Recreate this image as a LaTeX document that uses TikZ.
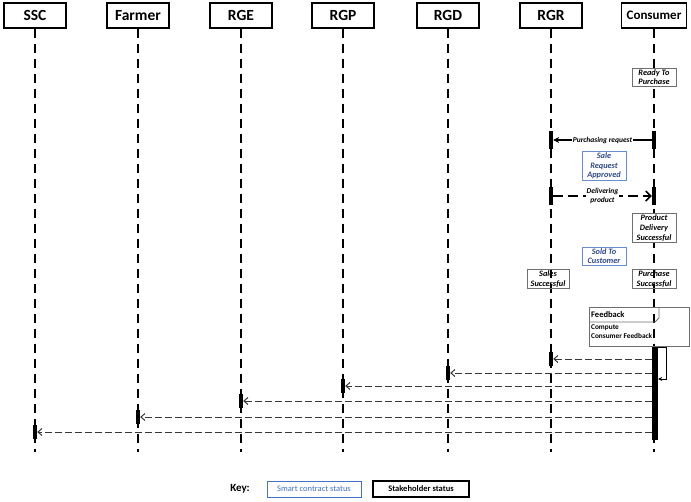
\documentclass[tikz,border=0pt]{standalone}
\usepackage{fontspec}
\setmainfont{Carlito}
\usetikzlibrary{arrows.meta}
\definecolor{keyblue}{HTML}{4472C4}
\definecolor{txtblue}{HTML}{2F4A8A}
\definecolor{boxgray}{HTML}{6F6F6F}
\definecolor{retgray}{HTML}{383838}
\begin{document}
\begin{tikzpicture}[x=1pt,y=-1pt,
  actor/.style={draw,line width=1.1pt,minimum width=62pt,minimum height=25pt,inner sep=0pt,font=\fontsize{15.5}{17}\selectfont\bfseries},
  life/.style={line width=1.1pt,dash pattern=on 9pt off 6pt},
  actbar/.style={fill=black,draw=none,minimum width=4pt,minimum height=14pt,inner sep=0pt},
  status/.style={draw=boxgray,line width=0.8pt,fill=white,align=center,inner sep=1.2pt,minimum width=44pt,font=\fontsize{8.3}{9.6}\selectfont\bfseries\itshape},
  contract/.style={status,draw=keyblue!80,text=txtblue},
  msglabel/.style={fill=white,inner sep=1pt,align=center,font=\fontsize{7.5}{8.5}\selectfont\bfseries\itshape},
  ret/.style={retgray,line width=1pt,dash pattern=on 6.5pt off 3.5pt,-{Straight Barb[length=4pt,width=7pt]}}
]
\useasboundingbox (0,0) rectangle (691,501);
\fill[white] (0,0) rectangle (691,501);

% actors
\node[actor] (ssc) at (35,15.5) {SSC};
\node[actor] (farmer) at (138,15.5) {Farmer};
\node[actor] (rge) at (241,15.5) {RGE};
\node[actor] (rgp) at (343,15.5) {RGP};
\node[actor] (rgd) at (448,15.5) {RGD};
\node[actor] (rgr) at (551,15.5) {RGR};
\node[actor,minimum width=65pt,font=\fontsize{13}{15}\selectfont\bfseries] (cons) at (654,15.5) {Consumer};

% lifeline ends
\foreach \n/\x in {ssc/35,farmer/138,rge/241,rgp/343,rgd/448,rgr/551,cons/654}{
  \coordinate (\n end) at (\x,452);
  \draw[life] (\n.south) -- (\n end);
}

% activation bars
\node[actbar,minimum height=18pt] (rb1) at (551,140) {};
\node[actbar,minimum height=18pt] (cb1) at (654,140) {};
\node[actbar,minimum height=18pt] (rb2) at (551,196) {};
\node[actbar,minimum height=18pt] (cb2) at (654,196) {};
\node[actbar,minimum width=6pt,minimum height=94pt] (cbar) at (655,393) {};
\node[actbar] (rb3) at (551,359) {};
\node[actbar] (dbar) at (448,373) {};
\node[actbar] (pbar) at (343,386) {};
\node[actbar] (ebar) at (241,401) {};
\node[actbar] (fbar) at (138,417) {};
\node[actbar] (sbar) at (35,432) {};

% status boxes
\node[status] (ready) at (654,77) {Ready To\\Purchase};
\node[contract] (approved) at (604,166) {Sale\\Request\\Approved};
\node[status] (pds) at (654,228) {Product\\Delivery\\Successful};
\node[contract] (sold) at (604,256) {Sold To\\Customer};
\node[status,fill=none,minimum width=42pt] (sales) at (548,279) {Sales\\Successful};
\node[status,fill=none] (purch) at (654,279) {Purchase\\Successful};

% messages
\draw[line width=1.8pt,-{Stealth[length=6pt,width=6pt]}] (cb1.west) -- node[msglabel] (preq) {Purchasing request} (rb1.east);
\draw[line width=1.8pt,dash pattern=on 10pt off 5pt,-{Straight Barb[length=5pt,width=10pt,line width=1.5pt]}] (rb2.east) -- node[msglabel] (dprod) {Delivering\\product} (cb2.west);

% feedback frame
\draw[boxgray,line width=0.8pt] (589,307) rectangle (689,346);
\draw[boxgray,line width=0.8pt] (589,322) -- (655,322) -- (659,318) -- (659,307);
\node[anchor=west,inner sep=0pt,font=\fontsize{8.5}{10}\selectfont\bfseries] (fbt) at (591,314.5) {Feedback};
\node[anchor=north west,inner sep=0pt,align=left,font=\fontsize{7.3}{9}\selectfont\bfseries] (fbc) at (591,324.5) {Compute\\Consumer Feedback};

% self message
\coordinate (selfa) at (666,347);
\coordinate (selfb) at (666,379);
\draw[line width=1pt,-{Stealth[length=4pt,width=4pt]}] (cbar.east |- selfa) -- (selfa) -- (selfb) -- (cbar.east |- selfb);

% return messages
\draw[ret] (cbar.west |- rb3) -- (rb3.east);
\draw[ret] (cbar.west |- dbar) -- (dbar.east);
\draw[ret] (cbar.west |- pbar) -- (pbar.east);
\draw[ret] (cbar.west |- ebar) -- (ebar.east);
\draw[ret] (cbar.west |- fbar) -- (fbar.east);
\draw[ret] (cbar.west |- sbar) -- (sbar.east);

% key
\node[font=\fontsize{11}{13}\selectfont\bfseries] (key) at (240,489) {Key:};
\node[draw=keyblue,line width=0.9pt,minimum width=94pt,minimum height=16pt,inner sep=1pt,text=keyblue,font=\fontsize{8.5}{10}\selectfont] (k1) at (314,489) {Smart contract status};
\node[draw,line width=1.1pt,minimum width=96pt,minimum height=16pt,inner sep=1pt,font=\fontsize{8.5}{10}\selectfont\bfseries] (k2) at (421,489) {Stakeholder status};
\end{tikzpicture}
\end{document}
